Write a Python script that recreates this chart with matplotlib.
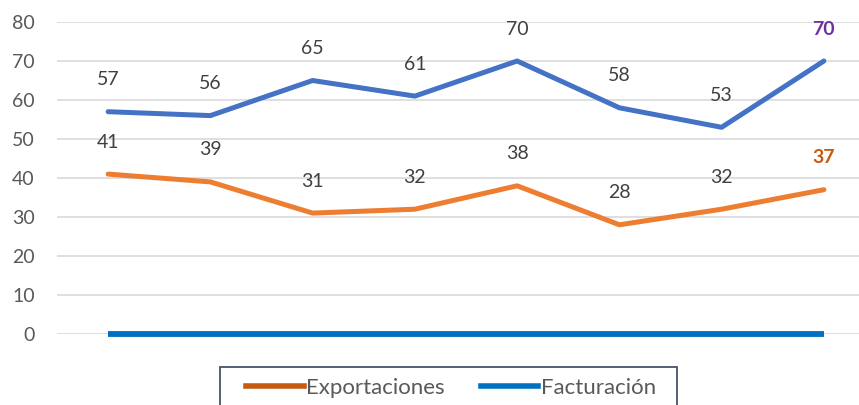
import matplotlib.pyplot as plt
from matplotlib.patches import Rectangle
from matplotlib.lines import Line2D

plt.rcParams["font.family"] = ["Lato", "DejaVu Sans"]

x = [0, 1, 2, 3, 4, 5, 6, 7]
serie_a = [57, 56, 65, 61, 70, 58, 53, 70]
serie_b = [41, 39, 31, 32, 38, 28, 32, 37]
facturacion = [0, 0, 0, 0, 0, 0, 0, 0]
yticks = [0, 10, 20, 30, 40, 50, 60, 70, 80]

fig = plt.figure(figsize=(8.59, 4.05), dpi=100)
ax = fig.add_axes([57 / 859, 1 - 334 / 405, 818 / 859, 312 / 405])

ax.plot(x, serie_a, color="#4472C4", lw=3.6, solid_capstyle="round")
ax.plot(x, serie_b, color="#ED7D31", lw=3.6, solid_capstyle="round")
ax.plot(x, facturacion, color="#0070C0", lw=4.2, solid_capstyle="butt", zorder=3, clip_on=False)

for i in range(len(x)):
    last = i == len(x) - 1
    ax.annotate(str(serie_a[i]), (x[i], serie_a[i]), xytext=(0, 23), textcoords="offset points",
                ha="center", va="center", fontsize=14,
                color="#7030A0" if last else "#404040", fontweight="bold" if last else "normal")
    ax.annotate(str(serie_b[i]), (x[i], serie_b[i]), xytext=(0, 23), textcoords="offset points",
                ha="center", va="center", fontsize=14,
                color="#C55A11" if last else "#404040", fontweight="bold" if last else "normal")

ax.set_xlim(-0.5, 7.5)
ax.set_ylim(0, 80)
ax.set_yticks(yticks)
ax.set_xticks([])
ax.tick_params(axis="y", length=0, pad=16, labelsize=14, labelcolor="#595959")
ax.grid(axis="y", color="#D9D9D9", lw=1.2)
ax.set_axisbelow(True)
for s in ax.spines.values():
    s.set_visible(False)

fig.patches.append(Rectangle((220 / 859, -0.05), 457 / 859, 0.05 + 38 / 405,
                             transform=fig.transFigure, fill=False, edgecolor="#44546A", lw=1.3))
handles = [Line2D([], [], color="#C55A11", lw=4), Line2D([], [], color="#0070C0", lw=4)]
fig.legend(handles, ["Exportaciones", "Facturación"], loc="center", bbox_to_anchor=(451 / 859, 1 - 388 / 405),
           ncol=2, frameon=False, fontsize=16, labelcolor="#595959", handlelength=2.6,
           handletextpad=0.1, columnspacing=1.6)

fig.savefig("out.png", dpi=100)
